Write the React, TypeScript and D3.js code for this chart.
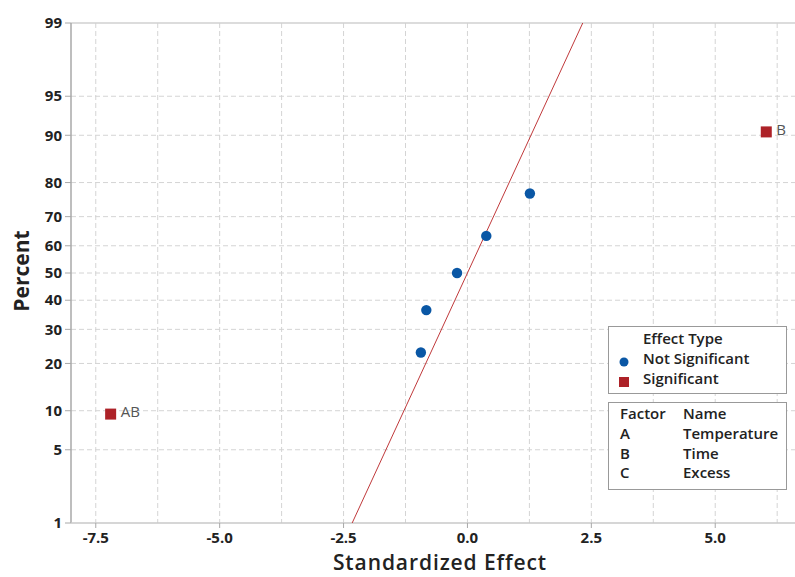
import React from "react";
import * as d3 from "d3";

const percentTicks = [1, 5, 10, 20, 30, 40, 50, 60, 70, 80, 90, 95, 99];
const effectTicks = [-7.5, -5.0, -2.5, 0.0, 2.5, 5.0];
const gridX = [-6.25, -3.75, -1.25, 1.25, 3.75, 6.25];

const effectNames = ["AB", "", "", "", "", "", "B"];
const effectValues = [-7.2, -0.94, -0.83, -0.21, 0.38, 1.26, 6.03];
const effectPercents = [9.46, 22.97, 36.49, 50.0, 63.51, 77.03, 90.54];
const effectSignificant = [true, false, false, false, false, false, true];

const lenthPSE = 1.0;

const factorCodes = ["A", "B", "C"];
const factorNames = ["Temperature", "Time", "Excess"];

const W = 795;
const H = 577;
const M = { left: 71, right: 797, top: 23, bottom: 523 };

const FONT = "'Open Sans', 'Noto Sans', sans-serif";

function invNorm(p: number): number {
  const a = [-3.969683028665376e1, 2.209460984245205e2, -2.759285104469687e2, 1.38357751867269e2, -3.066479806614716e1, 2.506628277459239];
  const b = [-5.447609879822406e1, 1.615858368580409e2, -1.556989798598866e2, 6.680131188771972e1, -1.328068155288572e1];
  const c = [-7.784894002430293e-3, -3.223964580411365e-1, -2.400758277161838, -2.549732539343734, 4.374664141464968, 2.938163982698783];
  const d = [7.784695709041462e-3, 3.224671290700398e-1, 2.445134137142996, 3.754408661907416];
  const pl = 0.02425;
  if (p < pl) {
    const q = Math.sqrt(-2 * Math.log(p));
    return (((((c[0] * q + c[1]) * q + c[2]) * q + c[3]) * q + c[4]) * q + c[5]) / ((((d[0] * q + d[1]) * q + d[2]) * q + d[3]) * q + 1);
  }
  if (p > 1 - pl) {
    const q = Math.sqrt(-2 * Math.log(1 - p));
    return -(((((c[0] * q + c[1]) * q + c[2]) * q + c[3]) * q + c[4]) * q + c[5]) / ((((d[0] * q + d[1]) * q + d[2]) * q + d[3]) * q + 1);
  }
  const q = p - 0.5;
  const r = q * q;
  return ((((((a[0] * r + a[1]) * r + a[2]) * r + a[3]) * r + a[4]) * r + a[5]) * q) / (((((b[0] * r + b[1]) * r + b[2]) * r + b[3]) * r + b[4]) * r + 1);
}

export default function App() {
  const x = d3.scaleLinear().domain([-8, 6.65]).range([M.left, M.right]);
  const zScale = d3.scaleLinear().domain([invNorm(0.01), invNorm(0.99)]).range([M.bottom, M.top]);
  const y = (pct: number) => zScale(invNorm(pct / 100));

  const zLo = invNorm(0.01);
  const zHi = invNorm(0.99);
  const lineGen = d3.line<[number, number]>().x((d) => x(d[0])).y((d) => zScale(d[1]));
  const refLine = lineGen([
    [lenthPSE * zLo, zLo],
    [lenthPSE * zHi, zHi],
  ]);

  const gridColor = "#d4d4d4";
  const pts = effectValues.map((v, i) => ({ v, p: effectPercents[i], s: effectSignificant[i], n: effectNames[i] }));
  const lf = 15;

  return (
    <svg width={W} height={H} style={{ position: "absolute", left: 0, top: 0, background: "#fff" }} fontFamily={FONT}>
      <defs>
        <clipPath id="plotclip">
          <rect x={M.left} y={M.top} width={M.right - M.left} height={M.bottom - M.top} />
        </clipPath>
      </defs>
      {gridX.concat(effectTicks).map((g, i) => (
        <line key={"gx" + i} x1={x(g)} x2={x(g)} y1={M.top} y2={M.bottom} stroke={gridColor} strokeWidth={1} strokeDasharray="5,3" />
      ))}
      {percentTicks.filter((p) => p !== 99 && p !== 1).map((p, i) => (
        <line key={"gy" + i} x1={M.left} x2={M.right} y1={y(p)} y2={y(p)} stroke={gridColor} strokeWidth={1} strokeDasharray="5,3" />
      ))}
      <line x1={M.left} x2={M.right} y1={M.top} y2={M.top} stroke="#d0d0d0" strokeWidth={1.5} />
      <line x1={M.left} x2={M.left} y1={M.top} y2={M.bottom} stroke="#a8a8a8" strokeWidth={1.5} />
      <line x1={M.left} x2={M.right} y1={M.bottom} y2={M.bottom} stroke="#c8c8c8" strokeWidth={1.5} />
      {percentTicks.map((p, i) => (
        <g key={"yt" + i}>
          <line x1={M.left - 6} x2={M.left} y1={y(p)} y2={y(p)} stroke="#a8a8a8" strokeWidth={1} />
          <text x={M.left - 9} y={y(p)} dy="0.35em" textAnchor="end" fontSize={15} fontWeight={700} fill="#222">
            {p}
          </text>
        </g>
      ))}
      {effectTicks.map((t, i) => (
        <g key={"xt" + i}>
          <line x1={x(t)} x2={x(t)} y1={M.bottom} y2={M.bottom + 5} stroke="#a8a8a8" strokeWidth={1} />
          <text x={x(t)} y={M.bottom + 20} textAnchor="middle" fontSize={15} fontWeight={700} fill="#222">
            {t.toFixed(1)}
          </text>
        </g>
      ))}
      <path d={refLine || ""} stroke="#c0393b" strokeWidth={1} fill="none" clipPath="url(#plotclip)" />
      {pts.map((d, i) =>
        d.s ? (
          <g key={"pt" + i}>
            <rect x={x(d.v) - 5.5} y={y(d.p) - 5.5} width={11} height={11} fill="#ad2228" />
            <text x={x(d.v) + 10} y={y(d.p) - 2} dy="0.35em" fontSize={15} fill="#555">
              {d.n}
            </text>
          </g>
        ) : (
          <circle key={"pt" + i} cx={x(d.v)} cy={y(d.p)} r={5.2} fill="#0a57a5" />
        )
      )}
      <text x={440} y={570} textAnchor="middle" fontSize={21} fontWeight={600} letterSpacing={0.9} fill="#222">
        Standardized Effect
      </text>
      <text transform={`translate(29,${271}) rotate(-90)`} textAnchor="middle" fontSize={21} fontWeight={700} fill="#222">
        Percent
      </text>
      <rect x={608.5} y={326.5} width={178} height={67} fill="#fff" stroke="#999" strokeWidth={1} />
      <text x={643} y={344} fontSize={lf} fontWeight={600} fill="#222">Effect Type</text>
      <circle cx={624} cy={362} r={4.5} fill="#0a57a5" />
      <text x={643} y={364} fontSize={lf} fontWeight={600} fill="#222">Not Significant</text>
      <rect x={619} y={377} width={10} height={10} fill="#ad2228" />
      <text x={643} y={384} fontSize={lf} fontWeight={600} fill="#222">Significant</text>
      <rect x={608.5} y={402.5} width={178} height={87} fill="#fff" stroke="#999" strokeWidth={1} />
      <text x={620} y={419} fontSize={lf} fontWeight={600} fill="#222">Factor</text>
      <text x={683} y={419} fontSize={lf} fontWeight={600} fill="#222">Name</text>
      {factorCodes.map((c, i) => (
        <g key={"f" + i}>
          <text x={620} y={439 + i * 19.5} fontSize={lf} fontWeight={600} fill="#222">{c}</text>
          <text x={683} y={439 + i * 19.5} fontSize={lf} fontWeight={600} fill="#222">{factorNames[i]}</text>
        </g>
      ))}
    </svg>
  );
}
